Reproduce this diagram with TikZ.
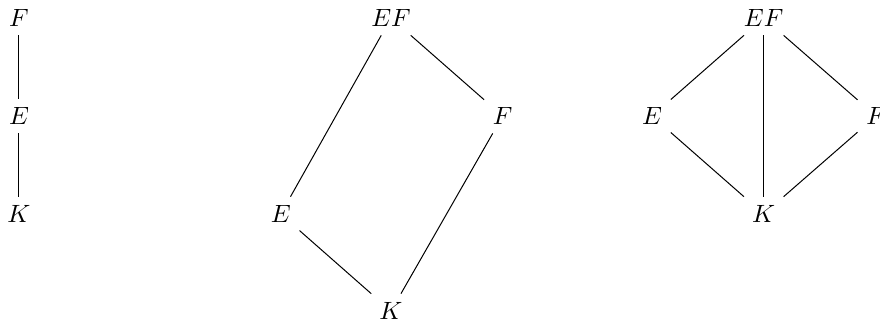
\documentclass[tikz,border=0pt]{standalone}
\usepackage{tikz}

\begin{document}
\begin{tikzpicture}[
                fld/.style={inner sep=0.3333em},
                ext/.style={draw=black, line width=0.4pt}
            ]
            \useasboundingbox (-0.267, 0.253) rectangle (12.105, -4.302);

            % tower
            \node[fld] (tF) at (0, 0) {$F$};
            \node[fld] (tE) at (0, -1.378) {$E$};
            \node[fld] (tK) at (0, -2.756) {$K$};
            \draw[ext] (tF) -- (tE) -- (tK);

            % compositum, skew
            \node[fld] (sEF) at (5.23, 0) {$EF$};
            \node[fld] (sF) at (6.80, -1.378) {$F$};
            \node[fld] (sE) at (3.68, -2.756) {$E$};
            \node[fld] (sK) at (5.23, -4.12) {$K$};
            \draw[ext] (sEF) -- (sF) -- (sK);
            \draw[ext] (sEF) -- (sE) -- (sK);

            % compositum, diamond
            \node[fld] (dEF) at (10.47, 0) {$EF$};
            \node[fld] (dE) at (8.90, -1.378) {$E$};
            \node[fld] (dF) at (12.05, -1.378) {$F$};
            \node[fld] (dK) at (10.47, -2.756) {$K$};
            \draw[ext] (dEF) -- (dE) -- (dK);
            \draw[ext] (dEF) -- (dF) -- (dK);
            \draw[ext] (dEF) -- (dK);

\end{tikzpicture}
\end{document}
